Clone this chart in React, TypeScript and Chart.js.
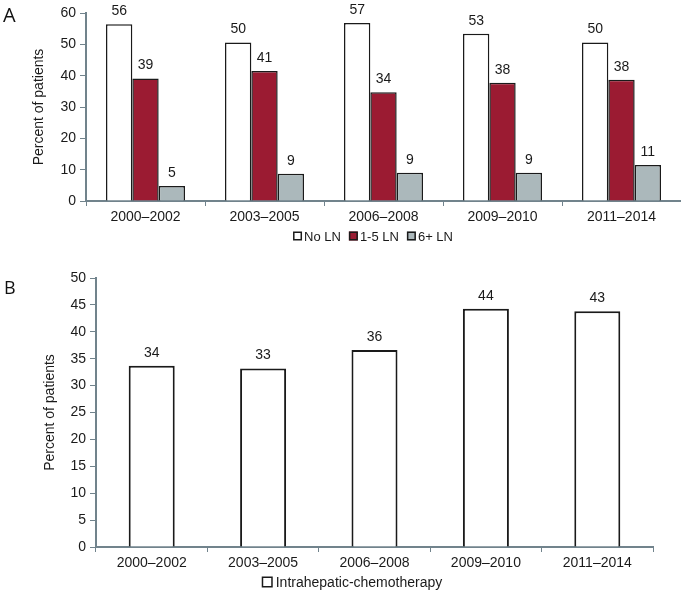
import React, { useEffect, useRef } from "react";
import { Chart, registerables } from "chart.js";

Chart.register(...registerables);

const periods = ["2000–2002", "2003–2005", "2006–2008", "2009–2010", "2011–2014"];

const noLN = [56.4, 50.6, 56.8, 53.4, 50.6];
const lowLN = [39.1, 41.5, 34.7, 37.7, 38.7];
const highLN = [4.8, 8.7, 9.0, 9.0, 11.5];
const noLNLabels = ["56", "50", "57", "53", "50"];
const lowLNLabels = ["39", "41", "34", "38", "38"];
const highLNLabels = ["5", "9", "9", "9", "11"];

const chemo = [33.7, 33.2, 36.6, 44.3, 43.8];
const chemoLabels = ["34", "33", "36", "44", "43"];

const FONT = "'Liberation Sans', Arial, Helvetica, sans-serif";
const AXIS = "#71838c";
const RED = "#9b1b32";
const GRAY = "#abb8bb";
const INK = "#1a1a1a";

const valueLabelPlugin = {
  id: "valueLabels",
  afterDatasetsDraw(chart: any) {
    const ctx = chart.ctx;
    const all = chart.options.plugins.valueLabels.labels as string[][];
    ctx.save();
    ctx.font = `14px ${FONT}`;
    ctx.fillStyle = INK;
    ctx.textAlign = "center";
    ctx.textBaseline = "bottom";
    chart.data.datasets.forEach((_: any, di: number) => {
      const meta = chart.getDatasetMeta(di);
      meta.data.forEach((el: any, i: number) => {
        ctx.fillText(all[di][i], el.x, el.y - 6);
      });
    });
    ctx.restore();
  },
};

const boxLegendPlugin = {
  id: "boxLegend",
  afterDraw(chart: any) {
    const o = chart.options.plugins.boxLegend;
    const ctx = chart.ctx;
    ctx.save();
    ctx.font = `${o.fontSize}px ${FONT}`;
    ctx.textBaseline = "middle";
    ctx.textAlign = "left";
    const items = chart.data.datasets.map((ds: any) => ({
      label: ds.label as string,
      fill: ds.backgroundColor as string,
      stroke: ds.borderColor as string,
      w: ctx.measureText(ds.label).width,
    }));
    const total =
      items.reduce((s: number, it: any) => s + o.box + o.gap + it.w, 0) + o.itemGap * (items.length - 1);
    let x = o.cx - total / 2;
    items.forEach((it: any) => {
      ctx.fillStyle = it.fill;
      ctx.fillRect(x, o.cy - o.box / 2, o.box, o.box);
      ctx.strokeStyle = it.stroke;
      ctx.lineWidth = 1.5;
      ctx.strokeRect(x + 0.75, o.cy - o.box / 2 + 0.75, o.box - 1.5, o.box - 1.5);
      ctx.fillStyle = INK;
      ctx.fillText(it.label, x + o.box + o.gap, o.cy + 1);
      x += o.box + o.gap + it.w + o.itemGap;
    });
    ctx.restore();
  },
};

function makeOptions(opts: {
  max: number;
  step: number;
  axisWidth: number;
  titlePad: number;
  padTop: number;
  padRight: number;
  padBottom: number;
  labels: string[][];
  legend: { cx: number; cy: number; box: number; gap: number; itemGap: number; fontSize: number };
}) {
  return {
    responsive: false,
    animation: false,
    layout: { padding: { top: opts.padTop, right: opts.padRight, left: 0, bottom: opts.padBottom } },
    plugins: {
      legend: { display: false },
      tooltip: { enabled: false },
      valueLabels: { labels: opts.labels },
      boxLegend: opts.legend,
    },
    scales: {
      x: {
        offset: true,
        afterFit(scale: any) {
          scale.height = 27;
        },
        grid: { display: true, drawOnChartArea: false, drawTicks: true, tickLength: 5, color: AXIS, offset: true, lineWidth: 1 },
        border: { display: true, color: AXIS, width: 2 },
        ticks: { font: { family: FONT, size: 14 }, color: INK, padding: 3, maxRotation: 0 },
      },
      y: {
        min: 0,
        max: opts.max,
        afterFit(scale: any) {
          scale.width = opts.axisWidth;
        },
        grid: { display: true, drawOnChartArea: false, drawTicks: true, tickLength: 6, color: AXIS, lineWidth: 1 },
        border: { display: true, color: AXIS, width: 2 },
        ticks: { stepSize: opts.step, font: { family: FONT, size: 14 }, color: INK, padding: 4 },
        title: {
          display: true,
          text: "Percent of patients",
          font: { family: FONT, size: 14 },
          color: INK,
          padding: { top: opts.titlePad, bottom: 0 },
        },
      },
    },
  };
}

export default function App() {
  const refA = useRef<HTMLCanvasElement>(null);
  const refB = useRef<HTMLCanvasElement>(null);

  useEffect(() => {
    const chartA = new Chart(refA.current as HTMLCanvasElement, {
      type: "bar",
      data: {
        labels: periods,
        datasets: [
          { label: "No LN", data: noLN, backgroundColor: "#ffffff", borderColor: INK, borderWidth: 1.5, categoryPercentage: 0.664, barPercentage: 1 },
          { label: "1-5 LN", data: lowLN, backgroundColor: RED, borderColor: INK, borderWidth: 1.5, categoryPercentage: 0.664, barPercentage: 1 },
          { label: "6+ LN", data: highLN, backgroundColor: GRAY, borderColor: INK, borderWidth: 1.5, categoryPercentage: 0.664, barPercentage: 1 },
        ],
      },
      options: makeOptions({
        max: 60,
        step: 10,
        axisWidth: 86,
        titlePad: 31,
        padTop: 13,
        padRight: 0,
        padBottom: 22,
        labels: [noLNLabels, lowLNLabels, highLNLabels],
        legend: { cx: 373, cy: 236, box: 9, gap: 2, itemGap: 8, fontSize: 13 },
      }) as any,
      plugins: [valueLabelPlugin, boxLegendPlugin],
    });
    const chartB = new Chart(refB.current as HTMLCanvasElement, {
      type: "bar",
      data: {
        labels: periods,
        datasets: [
          { label: "Intrahepatic-chemotherapy", data: chemo, backgroundColor: "#ffffff", borderColor: INK, borderWidth: 2, categoryPercentage: 1, barPercentage: 0.413 },
        ],
      },
      options: makeOptions({
        max: 50,
        step: 5,
        axisWidth: 96,
        titlePad: 42,
        padTop: 28,
        padRight: 28,
        padBottom: 18,
        labels: [chemoLabels],
        legend: { cx: 352, cy: 332, box: 11, gap: 3, itemGap: 8, fontSize: 14 },
      }) as any,
      plugins: [valueLabelPlugin, boxLegendPlugin],
    });
    return () => {
      chartA.destroy();
      chartB.destroy();
    };
  }, []);

  const letter: React.CSSProperties = {
    position: "absolute",
    fontFamily: "'Open Sans', 'Noto Sans', sans-serif",
    color: "#111",
  };

  return (
    <div style={{ position: "absolute", left: 0, top: 0, width: 681, height: 592, background: "#fff", overflow: "hidden" }}>
      <canvas ref={refA} width={681} height={250} style={{ position: "absolute", left: 0, top: 0 }} />
      <canvas ref={refB} width={681} height={342} style={{ position: "absolute", left: 0, top: 250 }} />
      <div style={{ ...letter, left: 3, top: 5, fontSize: 20, lineHeight: "20px" }}>A</div>
      <div style={{ ...letter, left: 4, top: 278, fontSize: 18, lineHeight: "18px" }}>B</div>
    </div>
  );
}
